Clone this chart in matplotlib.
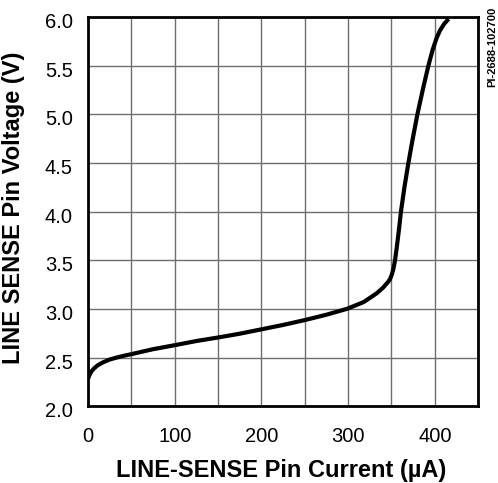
import numpy as np
import matplotlib
matplotlib.use('Agg')
import matplotlib.pyplot as plt
from matplotlib.ticker import MultipleLocator
from matplotlib.transforms import ScaledTranslation

plt.rcParams['font.family'] = ['Liberation Sans', 'DejaVu Sans']

# ---- LINE-SENSE pin V-I characteristic ----
current_ua = [0, 2, 4, 7, 11, 17, 25, 33, 42, 50, 75, 100, 125, 150, 175,
              200, 225, 250, 275, 298.5, 318, 333, 340, 346, 348, 350, 352,
              354, 356, 358.5, 361, 365, 369.6, 374, 380, 386.9, 392.7, 397.5,
              402, 406, 411, 416]
voltage_v = [2.285, 2.33, 2.36, 2.39, 2.42, 2.45, 2.48, 2.50, 2.52, 2.535,
             2.586, 2.627, 2.67, 2.706, 2.745, 2.79, 2.835, 2.885, 2.94, 3.00,
             3.07, 3.16, 3.215, 3.275, 3.30, 3.34, 3.40, 3.49, 3.62, 3.80,
             4.00, 4.25, 4.50, 4.72, 5.00, 5.28, 5.50, 5.66, 5.78, 5.86, 5.93,
             5.98]

x_ticks = [0, 100, 200, 300, 400]
y_ticks = [2.0, 2.5, 3.0, 3.5, 4.0, 4.5, 5.0, 5.5, 6.0]

fig = plt.figure(figsize=(4.98, 4.83), dpi=100)
ax = fig.add_axes([0.177, 0.159, 0.783, 0.806])

ax.plot(current_ua, voltage_v, color='black', lw=3.0, solid_capstyle='butt',
        solid_joinstyle='round', zorder=3)

ax.set_xlim(0, 450)
ax.set_ylim(2.0, 6.0)
ax.set_xticks(x_ticks)
ax.xaxis.set_minor_locator(MultipleLocator(50))
ax.set_yticks(y_ticks)
ax.set_yticklabels(['%.1f' % v for v in y_ticks])
ax.grid(True, which='both', color='#6e6e6e', lw=1.0)
ax.tick_params(which='both', length=0, labelsize=14.5)
ax.tick_params(axis='x', pad=15)
ax.tick_params(axis='y', pad=11)
# y labels sit a touch below their grid lines
shift = ScaledTranslation(0, -3.5 / 100, fig.dpi_scale_trans)
for lab in ax.get_yticklabels():
    lab.set_transform(lab.get_transform() + shift)
for s in ax.spines.values():
    s.set_linewidth(2.0)
    s.set_zorder(4)

ax.set_xlabel(u'LINE-SENSE Pin Current (\u00b5A)', fontsize=17,
              fontweight='bold', va='top')
ax.xaxis.set_label_coords(0.496, -0.136)
ax.set_ylabel('LINE SENSE Pin Voltage (V)', fontsize=17, fontweight='bold')
ax.yaxis.set_label_coords(-0.162, 0.51)

fig.text(0.988, 0.986, 'PI-2688-102700', rotation=90, ha='center', va='top',
         fontsize=8, fontweight='bold')

fig.savefig('out.png', dpi=100)
